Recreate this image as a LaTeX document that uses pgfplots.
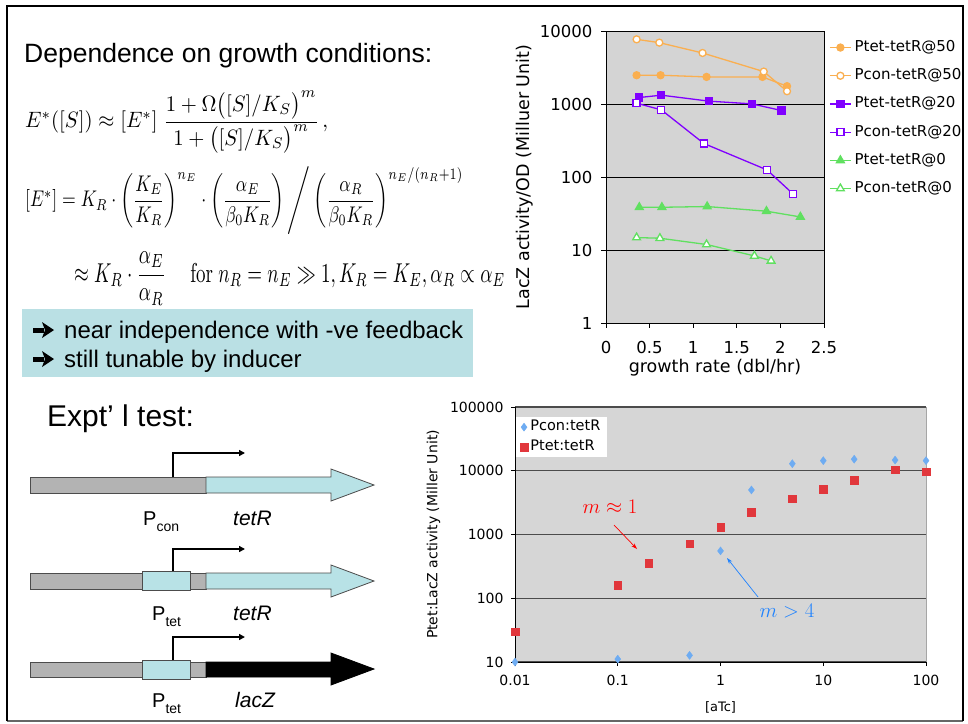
\documentclass[border=0pt]{standalone}
\usepackage{pgfplots}
\pgfplotsset{compat=1.18}
\usepackage{amsmath}
\usepackage{graphicx}
\usepackage[no-math]{fontspec}
\setmainfont{Liberation Sans}
\newfontfamily\verdana{DejaVu Sans}
\usetikzlibrary{arrows.meta}
\definecolor{orng}{RGB}{250,175,80}
\definecolor{purp}{RGB}{128,0,255}
\definecolor{grn}{RGB}{96,224,96}
\definecolor{bgray}{RGB}{212,212,212}
\definecolor{bgray2}{RGB}{214,214,214}
\definecolor{lblue}{RGB}{110,172,242}
\definecolor{rred}{RGB}{225,55,60}
\definecolor{boxcyan}{RGB}{186,224,228}
\definecolor{genecyan}{RGB}{184,226,230}
\definecolor{genegray}{RGB}{179,179,179}
\definecolor{annred}{RGB}{255,0,0}
\definecolor{annblue}{RGB}{30,130,255}
\newcommand{\fs}[1]{\fontsize{#1}{#1}\selectfont}

\pgfplotstableread{
x y
0.351 2478
0.626 2478
1.153 2350
1.794 2350
2.076 1754
}\PtetL
\pgfplotstableread{
x y
0.351 7690
0.611 6930
1.107 5000
1.809 2780
2.076 1497
}\PconL
\pgfplotstableread{
x y
0.382 1227
0.634 1321
1.183 1094
1.672 1005
2.011 815
}\PtetM
\pgfplotstableread{
x y
0.351 1026
0.634 832
1.122 288
1.847 125
2.145 58.6
}\PconM
\pgfplotstableread{
x y
0.382 38.5
0.641 38.5
1.160 39.4
1.840 34
2.229 28.4
}\PtetZ
\pgfplotstableread{
x y
0.351 14.8
0.618 14.5
1.153 11.9
1.702 8.3
1.893 7.1
}\PconZ
\pgfplotstableread{
x y
0.01 10
0.1 11.1
0.5 12.7
1 553
2 5000
5 12900
10 14400
20 15200
50 14700
100 14400
}\Pcon
\pgfplotstableread{
x y
0.01 30
0.1 162
0.2 355
0.5 713
1 1290
2 2240
5 3630
10 5090
20 7130
50 10370
100 9640
}\Ptet

\begin{document}
\begin{tikzpicture}
\path[use as bounding box, fill=white] (0pt,0pt) rectangle (968pt,-723pt);

\begin{scope}[x=1pt,y=-1pt]
% frame
\draw[black!60, line width=1.5pt] (7,721) -- (963,721);
\draw[line width=2.5pt] (7,721) -- (7,6) -- (963,6) -- (963,721);
% title
\node[anchor=base west, inner sep=0pt, font=\fs{26.5}] at (24,62) {Dependence on growth conditions:};
% equations
\node[anchor=west, inner sep=0pt] at (25,122) {\resizebox*{303pt}{62pt}{$E^{*}([S])\approx[E^{*}]\;\dfrac{1+\Omega\bigl([S]/K_S\bigr)^{m}}{1+\bigl([S]/K_S\bigr)^{m}}\,,$}};
\node[anchor=west, inner sep=0pt] at (25,201) {\resizebox*{438pt}{68pt}{$[E^{*}]=K_R\cdot\left(\dfrac{K_E}{K_R}\right)^{n_E}\cdot\left(\dfrac{\alpha_E}{\beta_0K_R}\right)\Bigg/\left(\dfrac{\alpha_R}{\beta_0K_R}\right)^{n_E/(n_R+1)}$}};
\node[anchor=west, inner sep=0pt] at (74,278.5) {\resizebox*{431pt}{53pt}{$\approx K_R\cdot\dfrac{\alpha_E}{\alpha_R}\quad\;\mathrm{for}\ n_R=n_E\gg1,K_R=K_E,\alpha_R\propto\alpha_E$}};
% box
\fill[boxcyan] (22,309) rectangle (473,377);
\fill[black] (33,327.5) rectangle (44,332.5);
\fill[black] (42,322) -- (54,330) -- (42,338) -- (45,330) -- cycle;
\fill[black] (33,356.5) rectangle (44,361.5);
\fill[black] (42,351) -- (54,359) -- (42,367) -- (45,359) -- cycle;
\node[anchor=base west, inner sep=0pt, font=\fs{24}] at (64,338) {near independence with -ve feedback};
\node[anchor=base west, inner sep=0pt, font=\fs{24}] at (64,367) {still tunable by inducer};
% Expt'l test
\node[anchor=base west, inner sep=0pt, font=\fs{30}] at (47,426) {Expt’ l test:};
% gene row 1
\filldraw[fill=genegray, draw=black!70, line width=0.8pt] (30,477) rectangle (206,493);
\filldraw[fill=genecyan, draw=black!70, line width=0.8pt] (206,477) -- (331,477) -- (331,469) -- (374,485) -- (331,501) -- (331,493) -- (206,493) -- cycle;
\draw[line width=1.6pt, -{Triangle[length=6pt,width=6pt]}] (173,477) -- (173,453) -- (245,453);
\node[anchor=base west, inner sep=0pt, font=\fs{20}] at (143,525) {P\raisebox{-0.3em}{\fs{14}con}};
\node[anchor=base west, inner sep=0pt, font=\fs{21}\itshape] at (233,525) {tetR};
% gene row 2
\filldraw[fill=genegray, draw=black!70, line width=0.8pt] (30,573) rectangle (206,589);
\filldraw[fill=genecyan, draw=black!70, line width=0.8pt] (142,571) rectangle (190,590);
\filldraw[fill=genecyan, draw=black!70, line width=0.8pt] (206,573) -- (331,573) -- (331,565) -- (374,581) -- (331,597) -- (331,589) -- (206,589) -- cycle;
\draw[line width=1.6pt, -{Triangle[length=6pt,width=6pt]}] (173,571) -- (173,549) -- (245,549);
\node[anchor=base west, inner sep=0pt, font=\fs{20}] at (152,620) {P\raisebox{-0.3em}{\fs{14}tet}};
\node[anchor=base west, inner sep=0pt, font=\fs{21}\itshape] at (233,620) {tetR};
% gene row 3
\filldraw[fill=genegray, draw=black!70, line width=0.8pt] (30,662) rectangle (206,677);
\filldraw[fill=genecyan, draw=black!70, line width=0.8pt] (142,660) rectangle (190,679);
\filldraw[fill=black, draw=black, line width=0.8pt] (206,662) -- (331,662) -- (331,653) -- (374,669) -- (331,685) -- (331,677) -- (206,677) -- cycle;
\draw[line width=1.6pt, -{Triangle[length=6pt,width=6pt]}] (173,660) -- (173,637) -- (245,637);
\node[anchor=base west, inner sep=0pt, font=\fs{20}] at (152,707) {P\raisebox{-0.3em}{\fs{14}tet}};
\node[anchor=base west, inner sep=0pt, font=\fs{21}\itshape] at (235,707) {lacZ};
\end{scope}

% ---------- top chart ----------
\begin{axis}[
  at={(606pt,-323pt)}, anchor=south west,
  scale only axis, width=218pt, height=292pt,
  xmin=0, xmax=2.5, ymin=1, ymax=10000, ymode=log,
  xtick={0,0.5,1,1.5,2,2.5}, xticklabels={0,0.5,1,1.5,2,2.5},
  ytick={1,10,100,1000,10000}, yticklabels={1,10,100,1000,10000},
  yminorticks=false,
  tick align=outside, xtick pos=left, ytick pos=left, major tick length=5pt,
  tick style={black, line width=0.8pt},
  axis background/.style={fill=bgray},
  axis line style={black, line width=0.8pt},
  ymajorgrids, major grid style={black, line width=0.8pt},
  tick label style={font=\verdana\fs{16.5}},
  xticklabel style={yshift=-10pt},
  yticklabel style={xshift=-5pt},
  label style={font=\verdana\fs{17.5}},
  xlabel={growth rate (dbl/hr)}, ylabel={LacZ activity/OD (Milluer Unit)},
  xlabel style={at={(axis description cs:0.5,-0.154)}, anchor=center},
  ylabel style={at={(axis description cs:-0.372,0.5)}, anchor=center},
  legend style={draw=none, fill=none, at={(1.023,0.968)}, anchor=north west,
    inner sep=0pt, row sep=14.2pt, cells={anchor=west}, font=\verdana\fs{15},
    nodes={inner xsep=3pt, inner ysep=0pt, text height=11pt, text depth=3pt, font=\verdana\fs{15}}},
  legend image code/.code={\draw[mark repeat=2,mark phase=2,#1] plot coordinates {(0cm,0cm) (0.37cm,0cm) (0.74cm,0cm)};},
  every axis plot/.append style={line width=1.3pt},
]
\addplot[orng, mark=*, mark size=3.5pt, mark options={fill=orng}] table {\PtetL};
\addlegendentry{Ptet-tetR@50}
\addplot[orng, mark=*, mark size=3.5pt, mark options={fill=white}] table {\PconL};
\addlegendentry{Pcon-tetR@50}
\addplot[purp, mark=square*, mark size=3.5pt, mark options={fill=purp}] table {\PtetM};
\addlegendentry{Ptet-tetR@20}
\addplot[purp, mark=square*, mark size=3.5pt, mark options={fill=white}] table {\PconM};
\addlegendentry{Pcon-tetR@20}
\addplot[grn, mark=triangle*, mark size=4.5pt, mark options={fill=grn}] table {\PtetZ};
\addlegendentry{Ptet-tetR@0}
\addplot[grn, mark=triangle*, mark size=4.5pt, mark options={fill=white}] table {\PconZ};
\addlegendentry{Pcon-tetR@0}
\end{axis}

% ---------- bottom chart ----------
\begin{axis}[
  at={(515pt,-662pt)}, anchor=south west,
  scale only axis, width=411pt, height=255pt,
  xmode=log, ymode=log, xmin=0.01, xmax=100, ymin=10, ymax=100000,
  xtick={0.01,0.1,1,10,100}, xticklabels={0.01,0.1,1,10,100},
  ytick={10,100,1000,10000,100000}, yticklabels={10,100,1000,10000,100000},
  xminorticks=false, yminorticks=false,
  axis lines*=left, axis line style={-, black, line width=0.8pt},
  axis background/.style={fill=bgray2, draw=black!35},
  tick align=outside, major tick length=4pt,
  tick style={black, line width=0.8pt},
  ymajorgrids, major grid style={black!70, line width=1.2pt},
  tick label style={font=\verdana\fs{14}},
  xticklabel style={yshift=-6pt},
  yticklabel style={xshift=-4pt},
  xlabel={[aTc]}, ylabel={Ptet:LacZ activity (Miller Unit)},
  xlabel style={font=\verdana\fs{13}, at={(axis description cs:0.5,-0.18)}, anchor=center},
  ylabel style={font=\verdana\fs{14}, at={(axis description cs:-0.198,0.5)}, anchor=center},
  legend style={at={(0.0025,0.961)}, anchor=north west, fill=white, draw=none,
    inner xsep=4pt, inner ysep=3.5pt, row sep=7pt, cells={anchor=west}, font=\verdana\fs{14.5},
    nodes={inner xsep=2.5pt, inner ysep=0pt, text height=10pt, text depth=3pt, font=\verdana\fs{14.5}}},
  legend image code/.code={\draw[#1] plot coordinates {(0cm,0cm)};},
]
\addplot[only marks, mark=diamond*, mark size=4pt, color=lblue] table {\Pcon};
\addlegendentry{\verdana\fs{14.5}Pcon:tetR}
\addplot[only marks, mark=square*, mark size=3.8pt, color=rred] table {\Ptet};
\addlegendentry{\verdana\fs{14.5}Ptet:tetR}
\end{axis}

\begin{scope}[x=1pt,y=-1pt]
\node[text=annred, font=\fs{20}] at (610,507) {$m\approx1$};
\draw[annred, line width=0.7pt, -{Stealth[length=6pt,width=4pt]}] (614,525) -- (637,549);
\node[text=annblue, font=\fs{20}] at (787,611) {$m>4$};
\draw[annblue, line width=0.7pt, -{Stealth[length=6pt,width=4pt]}] (758,597) -- (727,558);
\end{scope}
\end{tikzpicture}
\end{document}
